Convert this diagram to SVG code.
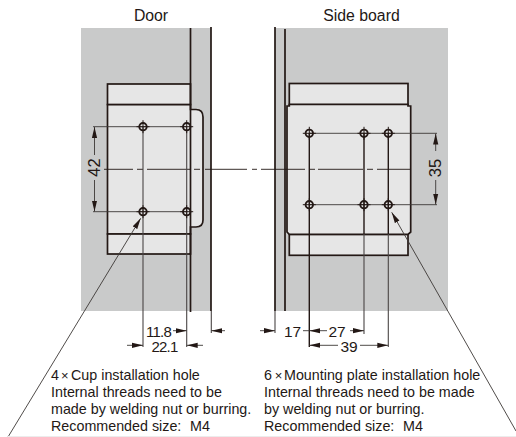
<svg xmlns="http://www.w3.org/2000/svg" width="516" height="437" viewBox="0 0 516 437">
<defs>
<marker id="ah" viewBox="0 0 11 6" refX="11" refY="3" markerWidth="11" markerHeight="6" orient="auto-start-reverse" markerUnits="userSpaceOnUse"><path d="M0 0.4L11 3L0 5.6Z" fill="#231815"/></marker>
<g id="hole"><circle r="3.7" fill="none" stroke="#231815" stroke-width="1.9"/><path d="M-6.500 0H6.500M0-6.500V6.500" stroke="#231815" stroke-width="1"/></g>
</defs>
<style>
text{font-family:"Liberation Sans",Arial,sans-serif;fill:#231815;font-size:14.3px}
.m{text-anchor:middle}
.t{font-size:15.8px}
.n{font-size:16.5px}
.k{font-size:15.5px}
.d{font-size:15px;letter-spacing:-0.8px}
.x{font-size:13px}
.s{font-size:6px}
.bold{fill:none;stroke:#231815;stroke-width:1.7}
.plate{fill:#e6e6e6;stroke:#231815;stroke-width:1.7}
.thin{fill:none;stroke:#3c3835;stroke-width:0.9}
.dim{fill:none;stroke:#3c3835;stroke-width:0.9;marker-end:url(#ah)}
.ctr{fill:none;stroke:#231815;stroke-width:0.9}
.ext{fill:none;stroke:#4a4645;stroke-width:1.1}
.extd{fill:none;stroke:#231815;stroke-width:1.4}
</style>
<g id="door">
<rect x="81" y="28" width="130" height="283" fill="#c9caca"/>
<path class="plate" d="M107.500 104.500H190.500V109.500H196Q203 109.500 203 117V220Q203 227 196 227H190.500V234H107.500Z"/>
<rect class="plate" x="107.500" y="84" width="83" height="20.500"/>
<rect class="plate" x="107.500" y="234" width="83" height="20"/>
<path class="bold" d="M190.500 28V312M211 27V311"/>
</g>
<g id="side-board">
<rect x="275" y="28" width="173" height="283" fill="#c9caca"/>
<rect class="plate" x="289.300" y="83.500" width="118.700" height="21"/>
<rect class="plate" x="289.300" y="234.300" width="118.700" height="21"/>
<path class="plate" d="M289.300 104.500H408V106H410.700V232L408 234.300H289.300L287 232V106H289.300Z"/>
<path class="bold" d="M275 27V311M285 29V311"/>
</g>
<g id="connectors">
<path class="ctr" d="M104 169.300H133M137 169.300H143M147 169.300H190M194 169.300H200M205 169.300H247M252 169.300H257M261 169.300H305M309 169.300H315M318 169.300H363M367 169.300H373M377 169.300H411"/>
<path class="thin" d="M93 126.700H186M93 211.700H186"/>
<path class="thin" d="M309 133.300H437M309 204.700H437"/>
<path class="ext" d="M143 127V347M186.700 127V347M211.300 311V333"/>
<path class="extd" d="M309.300 133V347M364 133V234M388.300 133V234"/>
<path class="ext" d="M364 234V334M388.300 234V347M275 311V333"/>
<path class="dim" d="M94.500 155V127"/>
<path class="dim" d="M94.500 180V211.500"/>
<path class="dim" d="M435.700 151V133.500"/>
<path class="dim" d="M435.700 180V204.500"/>
<path class="dim" d="M173 330.700H186.700"/>
<path class="dim" d="M225 330.700H211.300"/>
<path class="dim" d="M127 345.300H143"/>
<path class="dim" d="M203 345.300H186.700"/>
<path class="dim" d="M260 330.700H275"/>
<path class="thin" d="M303 330.700H309"/>
<path class="dim" d="M327 330.700H309.300"/>
<path class="dim" d="M350 330.700H364"/>
<path class="dim" d="M338 345.300H309.300"/>
<path class="dim" d="M360 345.300H388.300"/>
<path class="dim" d="M8 437L140.700 218.300"/>
<path class="dim" d="M516 431L391.700 212.300"/>
<path d="M8 436.500H516" stroke="#ececec" stroke-width="1"/>
</g>
<g id="holes">
<use href="#hole" x="143" y="126.700"/><use href="#hole" x="186.700" y="126.700"/><use href="#hole" x="143" y="211.700"/><use href="#hole" x="186.700" y="211.700"/>
<use href="#hole" x="309.300" y="133.300"/><use href="#hole" x="364" y="133.300"/><use href="#hole" x="388.300" y="133.300"/><use href="#hole" x="309.300" y="204.700"/><use href="#hole" x="364" y="204.700"/><use href="#hole" x="388.300" y="204.700"/>
</g>
<g id="labels">
<text class="m t" x="151" y="21">Door</text>
<text class="m t" x="361.500" y="21">Side board</text>
<text class="m n" transform="translate(100 167.500) rotate(-90)">42</text>
<text class="m n" transform="translate(441 168) rotate(-90)">35</text>
<text class="m d" x="158.500" y="336.500">11.8</text>
<text class="m d" x="164.500" y="351.500">22.1</text>
<text class="m k" x="292.500" y="336.500">17</text>
<text class="m k" x="337" y="336.500">27</text>
<text class="m k" x="349" y="351.500">39</text>
<text x="51" y="380">4<tspan class="s"> </tspan><tspan class="x" x="61">×</tspan><tspan class="s"> </tspan><tspan x="71">Cup installation hole</tspan></text>
<text x="51" y="397">Internal threads need to be</text>
<text x="51" y="414">made by welding nut or burring.</text>
<text x="51" y="431">Recommended size:<tspan class="s"> </tspan><tspan x="190">M4</tspan></text>
<text x="264" y="380">6<tspan class="s"> </tspan><tspan class="x" x="274.700">×</tspan><tspan class="s"> </tspan><tspan x="284">Mounting plate installation hole</tspan></text>
<text x="264" y="397">Internal threads need to be made</text>
<text x="264" y="414">by welding nut or burring.</text>
<text x="264" y="431">Recommended size:<tspan class="s"> </tspan><tspan x="403">M4</tspan></text>
</g>
</svg>
